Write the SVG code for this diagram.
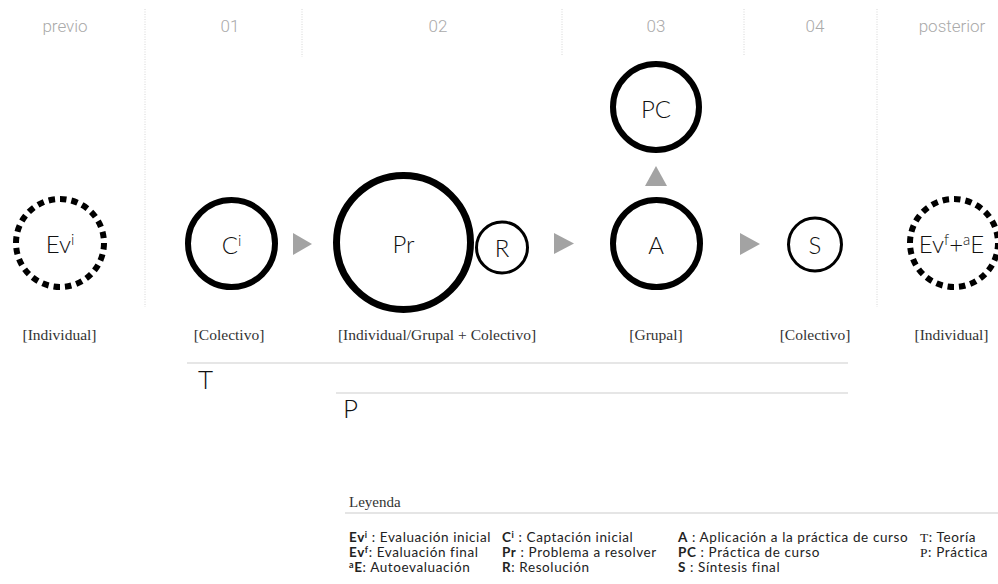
<svg xmlns="http://www.w3.org/2000/svg" width="998" height="584" viewBox="0 0 998 584">
<style>
.hdr{font-family:Roboto,"Liberation Sans",sans-serif;font-weight:300;font-size:17px;fill:#aaaaaa;text-anchor:middle}
.sep{stroke:#d6d6d6;stroke-width:1;stroke-dasharray:1 1.5;fill:none}
.ring{fill:#fff;stroke:#000}
.dot{fill:#fff;stroke:#000;stroke-width:6;stroke-dasharray:6.5 5}
.lbl{font-family:Lato,"Noto Sans",sans-serif;font-weight:300;font-size:24px;fill:#111;text-anchor:middle}
.sub{font-family:"Liberation Serif",serif;font-size:15.5px;fill:#333;text-anchor:middle}
.tri{fill:#a3a3a3}
.rule{stroke:#e6e6e6;stroke-width:2}
.big{font-family:Lato,"Noto Sans",sans-serif;font-weight:300;font-size:26px;fill:#111}
.leg{font-family:Lato,"Noto Sans",sans-serif;font-size:13.5px;letter-spacing:0.6px;fill:#222}
.b{font-weight:bold}
.sup{font-weight:bold;font-size:9px}
.ser{font-family:"Liberation Serif",serif}
</style>

<g id="headers">
<text class="hdr" x="65" y="32">previo</text>
<text class="hdr" x="230" y="32">01</text>
<text class="hdr" x="438" y="32">02</text>
<text class="hdr" x="656" y="32">03</text>
<text class="hdr" x="815" y="32">04</text>
<text class="hdr" x="952" y="32">posterior</text>
</g>
<g id="separators">
<line class="sep" x1="145" y1="9" x2="145" y2="307"/>
<line class="sep" x1="302" y1="9" x2="302" y2="57"/>
<line class="sep" x1="562" y1="9" x2="562" y2="55"/>
<line class="sep" x1="744" y1="9" x2="744" y2="55"/>
<line class="sep" x1="877" y1="9" x2="877" y2="307"/>
</g>

<g id="connectors">
<polygon class="tri" points="293,233 293,255 312,244"/>
<polygon class="tri" points="554,233 554,254 574,243.5"/>
<polygon class="tri" points="740,233 740,255 760,244"/>
<polygon class="tri" points="645,186 667,186 656,166"/>
</g>

<g id="node-evi">
<circle class="dot" cx="60" cy="243" r="44"/>
<text class="lbl" x="60" y="253">Ev<tspan font-size="15" dy="-8">i</tspan></text>
<text class="sub" x="59.5" y="340">[Individual]</text>
</g>
<g id="node-ci">
<circle class="ring" cx="231.5" cy="243.5" r="43.5" stroke-width="6"/>
<text class="lbl" x="231.5" y="253.5">C<tspan font-size="15" dy="-8">i</tspan></text>
<text class="sub" x="229" y="340">[Colectivo]</text>
</g>
<g id="node-pr">
<circle class="ring" cx="403.5" cy="242.5" r="67" stroke-width="7"/>
<text class="lbl" x="403.5" y="253">Pr</text>
<text class="sub" x="437" y="340">[Individual/Grupal + Colectivo]</text>
</g>
<g id="node-r">
<circle class="ring" cx="502" cy="247.5" r="25.5" stroke-width="3"/>
<text class="lbl" x="502" y="257">R</text>
</g>
<g id="node-a">
<circle class="ring" cx="656.5" cy="243.5" r="43.5" stroke-width="6"/>
<text class="lbl" x="656" y="253.5">A</text>
<text class="sub" x="656" y="340">[Grupal]</text>
</g>
<g id="node-pc">
<circle class="ring" cx="656" cy="107" r="43" stroke-width="6"/>
<text class="lbl" x="656" y="118">PC</text>
</g>
<g id="node-s">
<circle class="ring" cx="815" cy="244.5" r="26.5" stroke-width="3"/>
<text class="lbl" x="815" y="254">S</text>
<text class="sub" x="815" y="340">[Colectivo]</text>
</g>
<g id="node-evf">
<circle class="dot" cx="954" cy="243" r="44"/>
<text class="lbl" x="951.5" y="253">Ev<tspan font-size="15" dy="-8">f</tspan><tspan dy="8">+</tspan><tspan font-size="15" dy="-8">a</tspan><tspan dy="8">E</tspan></text>
<text class="sub" x="951.5" y="340">[Individual]</text>
</g>

<g id="tracks">
<line class="rule" x1="187" y1="363" x2="848" y2="363"/>
<text class="big" x="198" y="389">T</text>
<line class="rule" x1="336" y1="393" x2="848" y2="393"/>
<text class="big" x="343" y="418">P</text>
</g>

<g id="legend">
<text class="ser" x="349" y="507" font-size="15" fill="#333">Leyenda</text>
<line x1="345" y1="513" x2="998" y2="513" stroke="#dddddd" stroke-width="1.5"/>
<text class="leg" x="349" y="542"><tspan class="b">Ev</tspan><tspan class="sup" dy="-4">i</tspan><tspan dy="4"> : Evaluación inicial</tspan></text>
<text class="leg" x="349" y="557"><tspan class="b">Ev</tspan><tspan class="sup" dy="-4">f</tspan><tspan dy="4">: Evaluación final</tspan></text>
<text class="leg" x="349" y="572"><tspan class="sup" dy="-4">a</tspan><tspan class="b" dy="4">E</tspan><tspan>: Autoevaluación</tspan></text>
<text class="leg" x="502" y="542"><tspan class="b">C</tspan><tspan class="sup" dy="-4">i</tspan><tspan dy="4"> : Captación inicial</tspan></text>
<text class="leg" x="502" y="557"><tspan class="b">Pr</tspan> : Problema a resolver</text>
<text class="leg" x="502" y="572"><tspan class="b">R</tspan>: Resolución</text>
<text class="leg" x="678" y="542"><tspan class="b">A</tspan> : Aplicación a la práctica de curso</text>
<text class="leg" x="678" y="557"><tspan class="b">PC</tspan> : Práctica de curso</text>
<text class="leg" x="678" y="572"><tspan class="b">S</tspan> : Síntesis final</text>
<text class="leg" x="920" y="542"><tspan class="ser">T</tspan>: Teoría</text>
<text class="leg" x="920" y="557"><tspan class="ser">P</tspan>: Práctica</text>
</g>
</svg>
